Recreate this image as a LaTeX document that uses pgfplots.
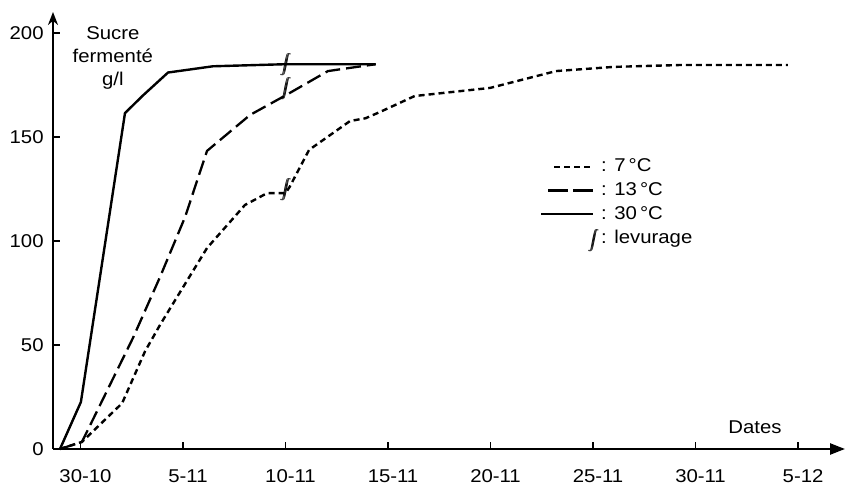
\documentclass[border=0pt]{standalone}
\usepackage{fontspec}
\setmainfont{Liberation Sans}[FakeStretch=1.1]
\usepackage{pgfplots}
\pgfplotsset{compat=1.18}
\usetikzlibrary{arrows.meta}
\newcommand{\levint}{\rlap{$\displaystyle\int$}\hspace{0.8pt}\rlap{$\displaystyle\int$}\hspace{0.8pt}$\displaystyle\int$}
\begin{document}
\fontsize{18.5}{23}\selectfont
\begin{tikzpicture}
\begin{axis}[
  at={(53pt,38pt)}, anchor=south west,
  scale only axis, width=792pt, height=437pt,
  xmin=-1.341, xmax=37.29, ymin=0, ymax=210.1,
  axis lines=left,
  axis line style={line width=2.4pt},
  every outer x axis line/.append style={-{Triangle[length=15pt,width=11pt]}},
  every outer y axis line/.append style={-{Stealth[length=13pt,width=10pt]}},
  xtick={0,5,...,35},
  xticklabels={30-10,5-11,10-11,15-11,20-11,25-11,30-11,5-12},
  ytick={0,50,100,150,200},
  tick align=inside, major tick length=7pt,
  tick style={line width=1.6pt, black},
  ticklabel style={font=\fontsize{18.5}{23}\selectfont},
  xticklabel style={yshift=-14pt, xshift=5pt},
  yticklabel style={xshift=-3pt},
  /pgf/number format/assume math mode=true,
  clip=false,
  legend style={at={(axis cs:22.41,140.5)}, anchor=north west, draw=none, fill=none,
    inner sep=0pt, row sep=4pt, font=\fontsize{18.5}{22}\selectfont,
    /tikz/every even column/.append style={column sep=13pt}},
  legend cell align=left,
]
% 7 C
\addplot[black, line width=2.4pt, dash pattern=on 6pt off 4pt,
  legend image code/.code={\path (0pt,0pt); \draw[black, line width=2.4pt, dash pattern=on 6pt off 4pt] (13pt,0pt) -- (52pt,0pt);}]
coordinates {(-1,0) (0.07,3.4) (2.03,22) (3.15,47) (3.9,60) (6.17,96.6) (8.02,117.3) (9.1,123) (10,123)
 (10.2,126) (11.15,143.8) (13.15,157.7) (13.9,159) (14.6,162) (16.3,169.7) (19.98,173.6) (23.2,181.7)
 (26,183.7) (29.2,184.6) (34.5,184.6)};
\addlegendentry{: 7\,°C}
% 13 C
\addplot[black, line width=2.3pt, dash pattern=on 15pt off 6pt,
  legend image code/.code={\path (0pt,0pt); \draw[black, line width=2.3pt, dash pattern=on 20pt off 5pt] (7pt,0pt) -- (52pt,0pt);}]
coordinates {(-1,0) (0.07,3.4) (2.56,53.4) (3.88,82.7) (5.1,111.5) (6.17,143.3) (8.27,160.6) (10,170)
 (12.07,181.7) (14.4,185)};
\addlegendentry{: 13\,°C}
% 30 C
\addplot[black, line width=2.4pt,
  legend image code/.code={\path (0pt,0pt); \draw[black, line width=2.4pt] (0pt,0pt) -- (52pt,0pt);}]
coordinates {(-1,0) (0.02,22.6) (2.17,161.5) (3.05,170) (4.27,181) (6.46,184) (10,185) (14.4,185)};
\addlegendentry{: 30\,°C}
% levurage
\addplot[only marks, mark=text, text mark={\levint},
  legend image code/.code={\path (0pt,0pt); \node[inner sep=0pt] at (46pt,0pt) {\levint};}]
coordinates {(10,185) (10,173.5) (10,124.5)};
\addlegendentry{: levurage}
\node[align=center, font=\fontsize{18.5}{23}\selectfont] at (axis cs:1.58,188) {Sucre\\fermenté\\g/l};
\node[font=\fontsize{18.5}{23}\selectfont] at (axis cs:32.9,10.6) {Dates};
\end{axis}
\pgfresetboundingbox
\path[use as bounding box] (0,0) rectangle (846pt,487pt);
\end{tikzpicture}
\end{document}
